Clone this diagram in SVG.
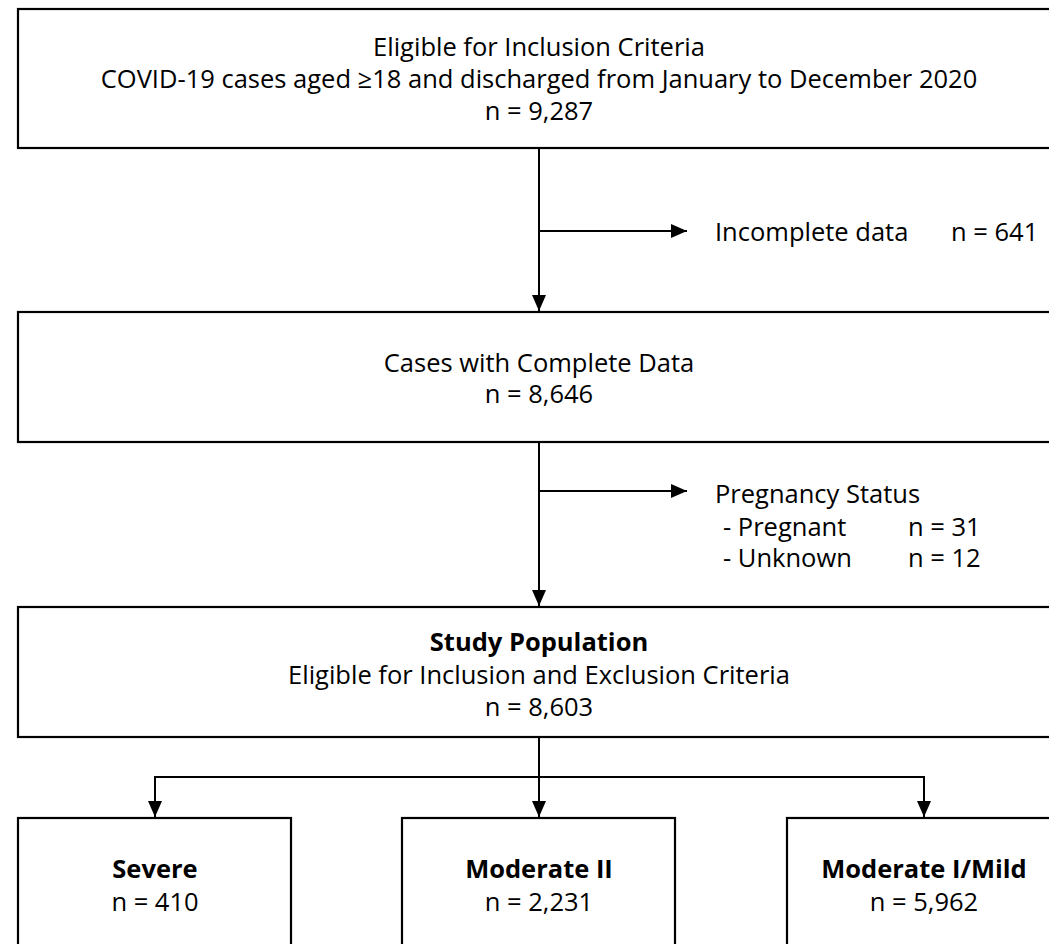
<svg xmlns="http://www.w3.org/2000/svg" width="1049" height="944" viewBox="0 0 1049 944">
<defs>
<style>
.box{fill:#fff;stroke:#000;stroke-width:2.2}
.t{font-family:"Open Sans","Noto Sans","Liberation Sans",sans-serif;font-size:25.5px;fill:#000}
.c{text-anchor:middle}
.b{font-weight:bold}
.ln{fill:none;stroke:#000;stroke-width:2}
</style>
<marker id="ah" viewBox="0 0 16 14" refX="16" refY="7" markerWidth="16" markerHeight="14" markerUnits="userSpaceOnUse" orient="auto">
<path d="M0,0 L16,7 L0,14 Z" fill="#000"/>
</marker>
</defs>
<rect width="1049" height="944" fill="#fff"/>
<g id="connectors">
<line class="ln" x1="539" y1="149" x2="539" y2="311" marker-end="url(#ah)"/>
<line class="ln" x1="539" y1="231" x2="687" y2="231" marker-end="url(#ah)"/>
<line class="ln" x1="539" y1="442" x2="539" y2="606" marker-end="url(#ah)"/>
<line class="ln" x1="539" y1="491" x2="687" y2="491" marker-end="url(#ah)"/>
<line class="ln" x1="539" y1="737" x2="539" y2="817" marker-end="url(#ah)"/>
<polyline class="ln" points="155,817 155,777 924,777 924,817" marker-end="url(#ah)"/>
<line class="ln" x1="155" y1="777" x2="155" y2="817" marker-end="url(#ah)"/>
</g>
<g id="node-eligible">
<rect class="box" x="18" y="9" width="1042" height="139"/>
<text class="t c" x="539" y="56">Eligible for Inclusion Criteria</text>
<text class="t c" x="539" y="88">COVID-19 cases aged ≥18 and discharged from January to December 2020</text>
<text class="t c" x="539" y="120">n = 9,287</text>
</g>
<g id="node-incomplete">
<text class="t" x="715" y="241">Incomplete data</text>
<text class="t" x="951" y="241">n = 641</text>
</g>
<g id="node-complete">
<rect class="box" x="18" y="312" width="1042" height="130"/>
<text class="t c" x="539" y="372">Cases with Complete Data</text>
<text class="t c" x="539" y="403">n = 8,646</text>
</g>
<g id="node-pregnancy">
<text class="t" x="715" y="503">Pregnancy Status</text>
<text class="t" x="723" y="536">- Pregnant</text>
<text class="t" x="908" y="536">n = 31</text>
<text class="t" x="723" y="567">- Unknown</text>
<text class="t" x="908" y="567">n = 12</text>
</g>
<g id="node-study">
<rect class="box" x="18" y="607" width="1042" height="130"/>
<text class="t c b" x="539" y="651">Study Population</text>
<text class="t c" x="539" y="684">Eligible for Inclusion and Exclusion Criteria</text>
<text class="t c" x="539" y="716">n = 8,603</text>
</g>
<g id="node-severe">
<rect class="box" x="18" y="818" width="273" height="140"/>
<text class="t c b" x="155" y="878">Severe</text>
<text class="t c" x="155" y="911">n = 410</text>
</g>
<g id="node-moderate2">
<rect class="box" x="402" y="818" width="273" height="140"/>
<text class="t c b" x="539" y="878">Moderate II</text>
<text class="t c" x="539" y="911">n = 2,231</text>
</g>
<g id="node-moderate1">
<rect class="box" x="787" y="818" width="273" height="140"/>
<text class="t c b" x="924" y="878">Moderate I/Mild</text>
<text class="t c" x="924" y="911">n = 5,962</text>
</g>
</svg>
